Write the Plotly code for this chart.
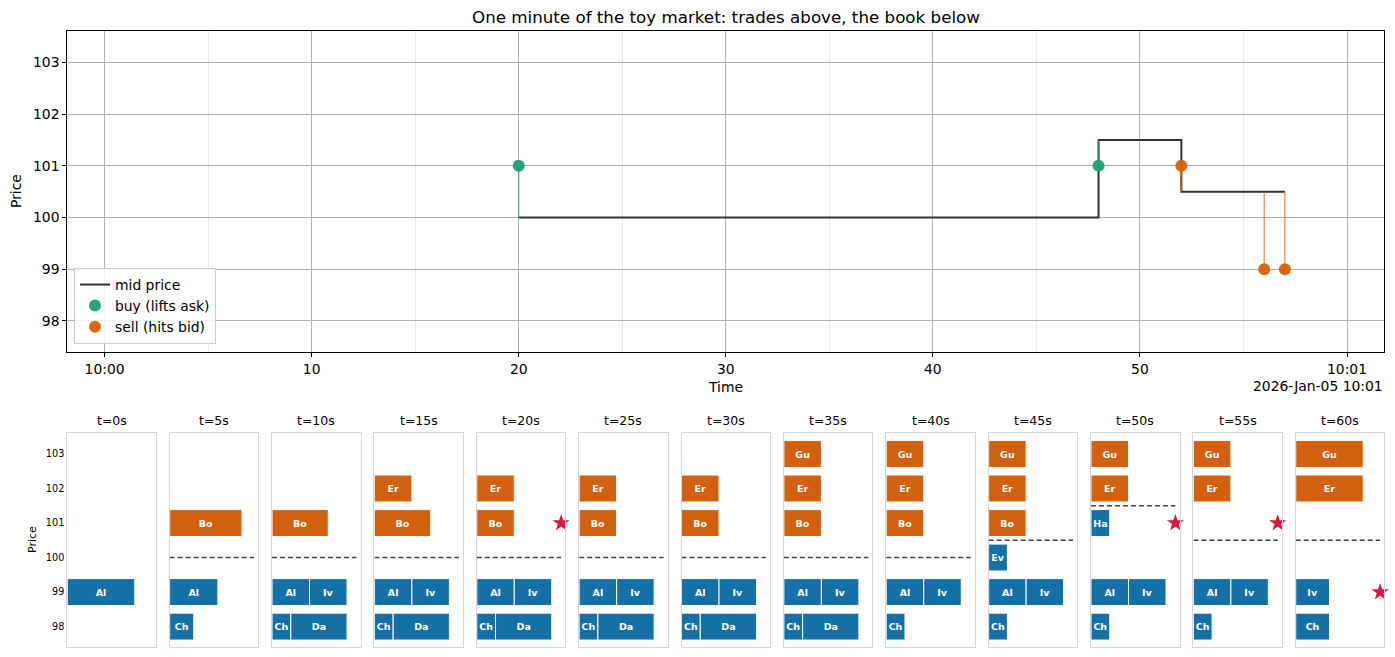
import plotly.graph_objects as go

W, H = 1395, 657

# ---------------- data ----------------
trade_t = [20, 48, 52, 56, 57]                 # seconds after 10:00
trade_price = [101, 101, 101, 99, 99]
trade_side = ["buy", "buy", "sell", "sell", "sell"]
mid_after = [100, 101.5, 100.5, 100.5, 100.5]  # mid price after each trade

x_tickvals = [0, 10, 20, 30, 40, 50, 60]
x_ticktext = ["10:00", "10", "20", "30", "40", "50", "10:01"]
offset_label = "2026-Jan-05 10:01"
price_ticks = [98, 99, 100, 101, 102, 103]

snap_t = [0, 5, 10, 15, 20, 25, 30, 35, 40, 45, 50, 55, 60]

# order book snapshots (queue order within each price level)
book_t = [0,
          5, 5, 5,
          10, 10, 10, 10, 10,
          15, 15, 15, 15, 15, 15,
          20, 20, 20, 20, 20, 20,
          25, 25, 25, 25, 25, 25,
          30, 30, 30, 30, 30, 30,
          35, 35, 35, 35, 35, 35, 35,
          40, 40, 40, 40, 40, 40,
          45, 45, 45, 45, 45, 45, 45,
          50, 50, 50, 50, 50, 50,
          55, 55, 55, 55, 55,
          60, 60, 60, 60]
book_side = ["B",
             "A", "B", "B",
             "A", "B", "B", "B", "B",
             "A", "A", "B", "B", "B", "B",
             "A", "A", "B", "B", "B", "B",
             "A", "A", "B", "B", "B", "B",
             "A", "A", "B", "B", "B", "B",
             "A", "A", "A", "B", "B", "B", "B",
             "A", "A", "A", "B", "B", "B",
             "A", "A", "A", "B", "B", "B", "B",
             "A", "A", "B", "B", "B", "B",
             "A", "A", "B", "B", "B",
             "A", "A", "B", "B"]
book_price = [99,
              101, 99, 98,
              101, 99, 99, 98, 98,
              102, 101, 99, 99, 98, 98,
              102, 101, 99, 99, 98, 98,
              102, 101, 99, 99, 98, 98,
              102, 101, 99, 99, 98, 98,
              103, 102, 101, 99, 99, 98, 98,
              103, 102, 101, 99, 99, 98,
              103, 102, 101, 100, 99, 99, 98,
              103, 102, 101, 99, 99, 98,
              103, 102, 99, 99, 98,
              103, 102, 99, 98]
book_name = ["Al",
             "Bo", "Al", "Ch",
             "Bo", "Al", "Iv", "Ch", "Da",
             "Er", "Bo", "Al", "Iv", "Ch", "Da",
             "Er", "Bo", "Al", "Iv", "Ch", "Da",
             "Er", "Bo", "Al", "Iv", "Ch", "Da",
             "Er", "Bo", "Al", "Iv", "Ch", "Da",
             "Gu", "Er", "Bo", "Al", "Iv", "Ch", "Da",
             "Gu", "Er", "Bo", "Al", "Iv", "Ch",
             "Gu", "Er", "Bo", "Ev", "Al", "Iv", "Ch",
             "Gu", "Er", "Ha", "Al", "Iv", "Ch",
             "Gu", "Er", "Al", "Iv", "Ch",
             "Gu", "Er", "Iv", "Ch"]
book_size = [2,
             3, 2, 1,
             3, 2, 2, 1, 3,
             2, 3, 2, 2, 1, 3,
             2, 2, 2, 2, 1, 3,
             2, 2, 2, 2, 1, 3,
             2, 2, 2, 2, 1, 3,
             2, 2, 2, 2, 2, 1, 3,
             2, 2, 2, 2, 2, 1,
             2, 2, 2, 1, 2, 2, 1,
             2, 2, 1, 2, 2, 1,
             2, 2, 2, 2, 1,
             2, 2, 1, 1]

# ---------------- styles ----------------
GREEN = "#1b9e77"
ORANGE = "#d95f02"
BAR_ASK = "#d3600f"
BAR_BID = "#1670a8"
STAR = "#d6173f"
FONT = "DejaVu Sans"


def fx(p):
    return p / W


def fy(p):
    return 1 - p / H


fig = go.Figure()

# ---------------- top panel ----------------
fig.add_trace(go.Scatter(
    x=trade_t, y=mid_after, mode="lines", line=dict(color="#333333", width=2, shape="hv"),
    name="mid price", xaxis="x", yaxis="y", hoverinfo="skip"))

for side, col in (("buy", GREEN), ("sell", ORANGE)):
    sx, sy = [], []
    for t, p, m, s in zip(trade_t, trade_price, mid_after, trade_side):
        if s == side:
            sx += [t, t, None]
            sy += [p, m, None]
    fig.add_trace(go.Scatter(x=sx, y=sy, mode="lines", line=dict(color=col, width=1.2),
                             opacity=0.75, showlegend=False, xaxis="x", yaxis="y",
                             hoverinfo="skip"))

for side, col, label in (("buy", GREEN, "buy (lifts ask)"), ("sell", ORANGE, "sell (hits bid)")):
    xs = [t for t, s in zip(trade_t, trade_side) if s == side]
    ys = [p for p, s in zip(trade_price, trade_side) if s == side]
    fig.add_trace(go.Scatter(x=xs, y=ys, mode="markers", name=label,
                             marker=dict(color=col, size=12, opacity=0.95, line=dict(width=0)),
                             xaxis="x", yaxis="y"))

layout = dict(
    width=W, height=H, margin=dict(l=0, r=0, t=0, b=0),
    paper_bgcolor="white", plot_bgcolor="white",
    font=dict(family=FONT, color="black", size=13.9),
    barmode="overlay",
    uniformtext=dict(minsize=9.5, mode="show"),
    showlegend=True,
    legend=dict(x=fx(74), y=fy(344), xanchor="left", yanchor="bottom",
                bgcolor="rgba(255,255,255,0.85)", bordercolor="#cccccc", borderwidth=1,
                font=dict(size=13.9), tracegroupgap=0, itemwidth=30),
    xaxis=dict(domain=[fx(67.3), fx(1384.3)], anchor="y", range=[-1.8, 61.8],
               tickmode="array", tickvals=x_tickvals, ticktext=x_ticktext,
               ticks="outside", ticklen=4, tickwidth=1, tickcolor="black",
               showline=True, mirror=True, linecolor="black", linewidth=1,
               showgrid=True, gridcolor="#b0b0b0", gridwidth=1, zeroline=False,
               minor=dict(tickmode="linear", tick0=0, dtick=5, showgrid=True,
                          gridcolor="#ebebeb", gridwidth=1, ticks=""),
               tickfont=dict(size=13.9)),
    yaxis=dict(domain=[fy(352), fy(31.3)], anchor="x", range=[97.4, 103.6],
               tickmode="array", tickvals=price_ticks,
               ticks="outside", ticklen=4, tickwidth=1, tickcolor="black",
               showline=True, mirror=True, linecolor="black", linewidth=1,
               showgrid=True, gridcolor="#b0b0b0", gridwidth=1, zeroline=False,
               tickfont=dict(size=13.9)),
)

annotations = [
    dict(text="One minute of the toy market: trades above, the book below",
         x=fx(725.8), y=fy(17), xref="paper", yref="paper", showarrow=False,
         xanchor="center", yanchor="middle", font=dict(size=16.7)),
    dict(text="Price", x=fx(16), y=fy(191), xref="paper", yref="paper", showarrow=False,
         textangle=-90, xanchor="center", yanchor="middle", font=dict(size=13.9)),
    dict(text="Time", x=fx(725.8), y=fy(387), xref="paper", yref="paper", showarrow=False,
         xanchor="center", yanchor="middle", font=dict(size=13.9)),
    dict(text=offset_label, x=fx(1384.5), y=fy(386), xref="paper", yref="paper",
         showarrow=False, xanchor="right", yanchor="middle", font=dict(size=13.9)),
    dict(text="Price", x=fx(32), y=fy(540), xref="paper", yref="paper", showarrow=False,
         textangle=-90, xanchor="center", yanchor="middle", font=dict(size=11)),
]

# ---------------- bottom panels ----------------
panel_left0 = 67.3
panel_step = 102.37
panel_w = 88.6

for i, t in enumerate(snap_t):
    k = i + 2
    xa, ya = f"x{k}", f"y{k}"
    rows = [j for j in range(len(book_t)) if book_t[j] == t]
    totals = {}
    for j in rows:
        totals[book_price[j]] = totals.get(book_price[j], 0) + book_size[j]
    max_tot = max(totals.values())
    x_edge = max_tot + 0.5

    for side, col in (("A", BAR_ASK), ("B", BAR_BID)):
        cum = {}
        ys, xs, bases, names = [], [], [], []
        for j in rows:
            if book_side[j] != side:
                continue
            p = book_price[j]
            b = cum.get(p, 0)
            ys.append(p)
            xs.append(book_size[j])
            bases.append(b)
            names.append(book_name[j])
            cum[p] = b + book_size[j]
        if ys:
            fig.add_trace(go.Bar(
                orientation="h", y=ys, x=xs, base=bases, width=0.78,
                marker=dict(color=col, line=dict(color="white", width=1)),
                text=names, textposition="inside", insidetextanchor="middle",
                textangle=0, constraintext="none",
                textfont=dict(color="white", size=9.5, family=FONT, weight="bold"),
                showlegend=False, hoverinfo="skip", xaxis=xa, yaxis=ya))

    asks = [book_price[j] for j in rows if book_side[j] == "A"]
    bids = [book_price[j] for j in rows if book_side[j] == "B"]
    if asks and bids:
        mid = (min(asks) + max(bids)) / 2
        fig.add_trace(go.Scatter(
            x=[0, x_edge], y=[mid, mid], mode="lines",
            line=dict(color="#444444", width=1.5, dash="5px,3px"),
            showlegend=False, hoverinfo="skip", xaxis=xa, yaxis=ya))

    recent = [p for tt, p in zip(trade_t, trade_price) if t - 5 < tt <= t]
    if recent:
        fig.add_trace(go.Scatter(
            x=[x_edge], y=[recent[-1]], mode="markers",
            marker=dict(symbol="star", size=13, color=STAR, line=dict(width=0)),
            cliponaxis=False, showlegend=False, hoverinfo="skip", xaxis=xa, yaxis=ya))

    left = panel_left0 + i * panel_step
    layout[f"xaxis{k}"] = dict(
        domain=[fx(left), fx(left + panel_w)], anchor=ya,
        range=[0, 1.05 * x_edge], showline=True, mirror=True, linecolor="#d5d5d5",
        linewidth=1, showgrid=False, zeroline=False, showticklabels=False, ticks="")
    layout[f"yaxis{k}"] = dict(
        domain=[fy(647.3), fy(433.3)], anchor=xa, range=[97.4, 103.6],
        tickmode="array", tickvals=price_ticks, showticklabels=(i == 0), ticks="",
        showline=True, mirror=True, linecolor="#d5d5d5", linewidth=1,
        showgrid=False, zeroline=False, tickfont=dict(size=9.7))
    annotations.append(dict(
        text=f"t={t}s", x=fx(left + panel_w / 2), y=fy(420), xref="paper", yref="paper",
        showarrow=False, xanchor="center", yanchor="middle", font=dict(size=12.5)))

layout["annotations"] = annotations
fig.update_layout(**layout)

fig.write_html("out.html")
